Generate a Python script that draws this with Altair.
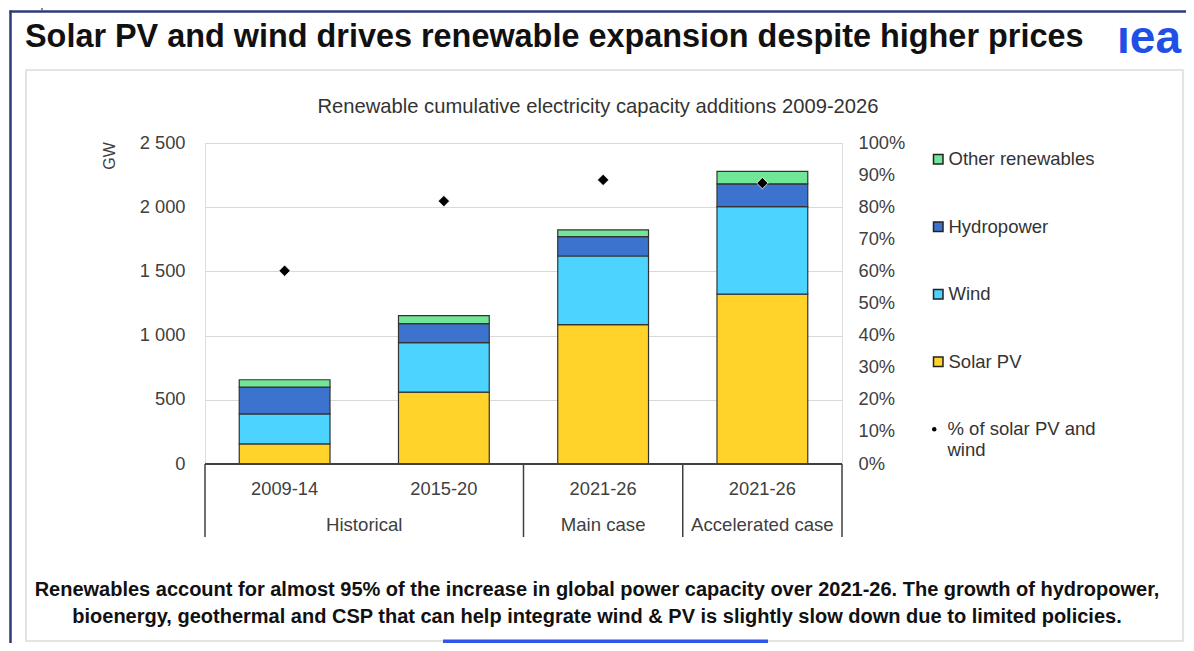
import altair as alt
import pandas as pd

# ---------------- data ----------------
periods = ["2009-14", "2015-20", "2021-26", "2021-26"]
period_group = ["Historical", "Historical", "Main case", "Accelerated case"]
series = ["Solar PV", "Wind", "Hydropower", "Other renewables"]
solar_pv = [156, 560, 1086, 1323]
wind = [235, 385, 534, 682]
hydropower = [208, 149, 151, 177]
other_renewables = [57, 62, 52, 97]
share_solar_wind = [0.602, 0.819, 0.885, 0.875]
series_colors = ["#FFD32A", "#4DD3FF", "#3C73CF", "#72E698"]
gw_ticks = [0, 500, 1000, 1500, 2000, 2500]
pct_ticks = [0, 0.1, 0.2, 0.3, 0.4, 0.5, 0.6, 0.7, 0.8, 0.9, 1.0]

title_text = "Solar PV and wind drives renewable expansion despite higher prices"
subtitle_text = "Renewable cumulative electricity capacity additions 2009-2026"
footer_line1 = ("Renewables account for almost 95% of the increase in global power capacity "
                "over 2021-26. The growth of hydropower,")
footer_line2 = ("bioenergy, geothermal and CSP that can help integrate wind & PV is slightly "
                "slow down due to limited policies.")
share_label = "% of solar PV and wind"
y_title = "GW"

# ---------------- layout constants ----------------
W, H = 637, 321
BAR_FRAC = 0.57
FONT = "Liberation Sans"
TXT = "#404040"
NAVY = "#2E3A78"
FS = 18.3

# ---------------- tables ----------------
values = dict(zip(series, [solar_pv, wind, hydropower, other_renewables]))
rows = []
for i, p in enumerate(periods):
    base = 0
    for k, s in enumerate(series):
        v = values[s][i]
        rows.append(dict(idx=i, period=p, series=s, order=k, y0=base, y1=base + v,
                         xa=i + (1 - BAR_FRAC) / 2, xb=i + (1 + BAR_FRAC) / 2))
        base += v
bars_df = pd.DataFrame(rows)

n = len(periods)
share_df = pd.DataFrame(dict(xc=[i + 0.5 for i in range(n)], share=share_solar_wind,
                             label=[share_label] * n))
period_df = pd.DataFrame(dict(xc=[i + 0.5 for i in range(n)], period=periods))

groups = []
start = 0
for i in range(1, n + 1):
    if i == n or period_group[i] != period_group[start]:
        groups.append(dict(group=period_group[start], start=start, end=i, xc=(start + i) / 2))
        start = i
group_df = pd.DataFrame(groups)
sep_df = pd.DataFrame(dict(xs=[0] + [g["end"] for g in groups]))
base_df = pd.DataFrame(dict(xa=[0], xb=[n]))
dummy = pd.DataFrame(dict(a=[0]))

legend_order = list(reversed(series))
legend_colors = list(reversed(series_colors))

xscale = alt.Scale(domain=[0, n], nice=False, zero=False)

# ---------------- decorations ----------------
panel = alt.Chart(dummy).mark_rect(fill="transparent", stroke="#dcdcdc", strokeWidth=1.5).encode(
    x=alt.value(-179), x2=alt.value(978), y=alt.value(-73), y2=alt.value(498))
frame_left = alt.Chart(dummy).mark_rule(color=NAVY, strokeWidth=2.5).encode(
    x=alt.value(-194.5), y=alt.value(-132.5), y2=alt.value(500))
frame_top = alt.Chart(dummy).mark_rule(color=NAVY, strokeWidth=2.5).encode(
    y=alt.value(-131.5), x=alt.value(-195.5), x2=alt.value(981))
frame_tick = alt.Chart(dummy).mark_rule(color="#5A63A0", strokeWidth=1.5).encode(
    x=alt.value(-163), y=alt.value(-135), y2=alt.value(-132))
blue_bar = alt.Chart(dummy).mark_rect(color="#2F55EA").encode(
    x=alt.value(238), x2=alt.value(563), y=alt.value(496.5), y2=alt.value(500))

title = alt.Chart(dummy).mark_text(align="left", baseline="middle", fontSize=32.4,
                                   fontWeight="bold", color="#111111", font=FONT).encode(
    x=alt.value(-180), y=alt.value(-106), text=alt.value(title_text))
logo = alt.Chart(dummy).mark_text(align="center", baseline="alphabetic", fontSize=46,
                                  fontWeight="bold", color="#1F4FE6", font=FONT).encode(
    x=alt.value(944), y=alt.value(-90), text=alt.value("\u0131ea"))
subtitle = alt.Chart(dummy).mark_text(align="center", baseline="middle", fontSize=20.2,
                                      color="#333333", font=FONT).encode(
    x=alt.value(393), y=alt.value(-36), text=alt.value(subtitle_text))
gw = alt.Chart(dummy).mark_text(align="center", baseline="middle", fontSize=16, angle=270,
                                color=TXT, font=FONT).encode(
    x=alt.value(-95), y=alt.value(13), text=alt.value(y_title))
foot1 = alt.Chart(dummy).mark_text(align="center", baseline="middle", fontSize=20,
                                   fontWeight="bold", color="#111111", font=FONT).encode(
    x=alt.value(392), y=alt.value(447), text=alt.value(footer_line1))
foot2 = alt.Chart(dummy).mark_text(align="center", baseline="middle", fontSize=20,
                                   fontWeight="bold", color="#111111", font=FONT).encode(
    x=alt.value(392), y=alt.value(474), text=alt.value(footer_line2))

# ---------------- data marks ----------------
bars = alt.Chart(bars_df).mark_bar(stroke="#333333", strokeWidth=1.2).encode(
    x=alt.X("xa:Q", scale=xscale, axis=None),
    x2="xb:Q",
    y=alt.Y("y0:Q", scale=alt.Scale(domain=[0, 2500], nice=False),
            axis=alt.Axis(values=gw_ticks, format=",d",
                          labelExpr="replace(datum.label, ',', ' ')",
                          title=None, grid=True, gridColor="#d9d9d9", gridWidth=1.2,
                          domain=False, ticks=False, labelPadding=20,
                          labelFontSize=FS, labelColor=TXT, labelFont=FONT)),
    y2="y1:Q",
    fill=alt.Fill("series:N", scale=alt.Scale(domain=legend_order, range=legend_colors),
                  legend=alt.Legend(orient="none", legendX=724, legendY=7, title=None,
                                    symbolType="square", symbolSize=90,
                                    symbolStrokeColor="#222222", symbolStrokeWidth=1.5,
                                    labelFontSize=18.5, labelFont=FONT, labelColor="#333333",
                                    labelLimit=260, rowPadding=48.5, labelOffset=1)),
)

diamonds = alt.Chart(share_df).mark_point(shape="diamond", filled=True, fill="black",
                                          stroke="white", strokeWidth=0.8, size=130,
                                          opacity=1).encode(
    x=alt.X("xc:Q", scale=xscale, axis=None),
    y=alt.Y("share:Q", scale=alt.Scale(domain=[0, 1], nice=False),
            axis=alt.Axis(orient="right", values=pct_ticks, format=".0%", title=None,
                          grid=False, domain=False, ticks=False, labelPadding=16,
                          labelFontSize=FS, labelColor=TXT, labelFont=FONT)),
    opacity=alt.Opacity("label:N", scale=alt.Scale(domain=[share_label], range=[1]),
                        legend=alt.Legend(orient="none", legendX=720, legendY=277, title=None,
                                          symbolType="circle", symbolSize=20,
                                          symbolFillColor="black", symbolStrokeColor="black",
                                          labelFontSize=18.5, labelFont=FONT, labelColor="#333333",
                                          labelLimit=260, labelOffset=4,
                                          labelExpr="['% of solar PV and', 'wind']")),
)

baseline = alt.Chart(base_df).mark_rule(color="#404040", strokeWidth=2).encode(
    x=alt.X("xa:Q", scale=xscale, axis=None), x2="xb:Q", y=alt.value(H))
seps = alt.Chart(sep_df).mark_rule(color="#404040", strokeWidth=1.5).encode(
    x=alt.X("xs:Q", scale=xscale, axis=None), y=alt.value(H), y2=alt.value(394))
period_labels = alt.Chart(period_df).mark_text(fontSize=FS, color=TXT, font=FONT,
                                               baseline="middle").encode(
    x=alt.X("xc:Q", scale=xscale, axis=None), y=alt.value(347), text="period:N")
group_labels = alt.Chart(group_df).mark_text(fontSize=18.6, color=TXT, font=FONT,
                                             baseline="middle").encode(
    x=alt.X("xc:Q", scale=xscale, axis=None), y=alt.value(382), text="group:N")

chart = alt.layer(
    panel, frame_left, frame_top, frame_tick,
    bars, diamonds, baseline, seps, period_labels, group_labels,
    title, logo, subtitle, gw, foot1, foot2, blue_bar,
).resolve_scale(y="independent").properties(
    width=W, height=H,
    autosize=alt.AutoSizeParams(type="none"),
    padding={"left": 197, "top": 135, "right": 344, "bottom": 179},
    background="white",
).configure_view(stroke="transparent").configure(font=FONT)

chart.save("out.html", embed_options={"renderer": "svg", "actions": False})
